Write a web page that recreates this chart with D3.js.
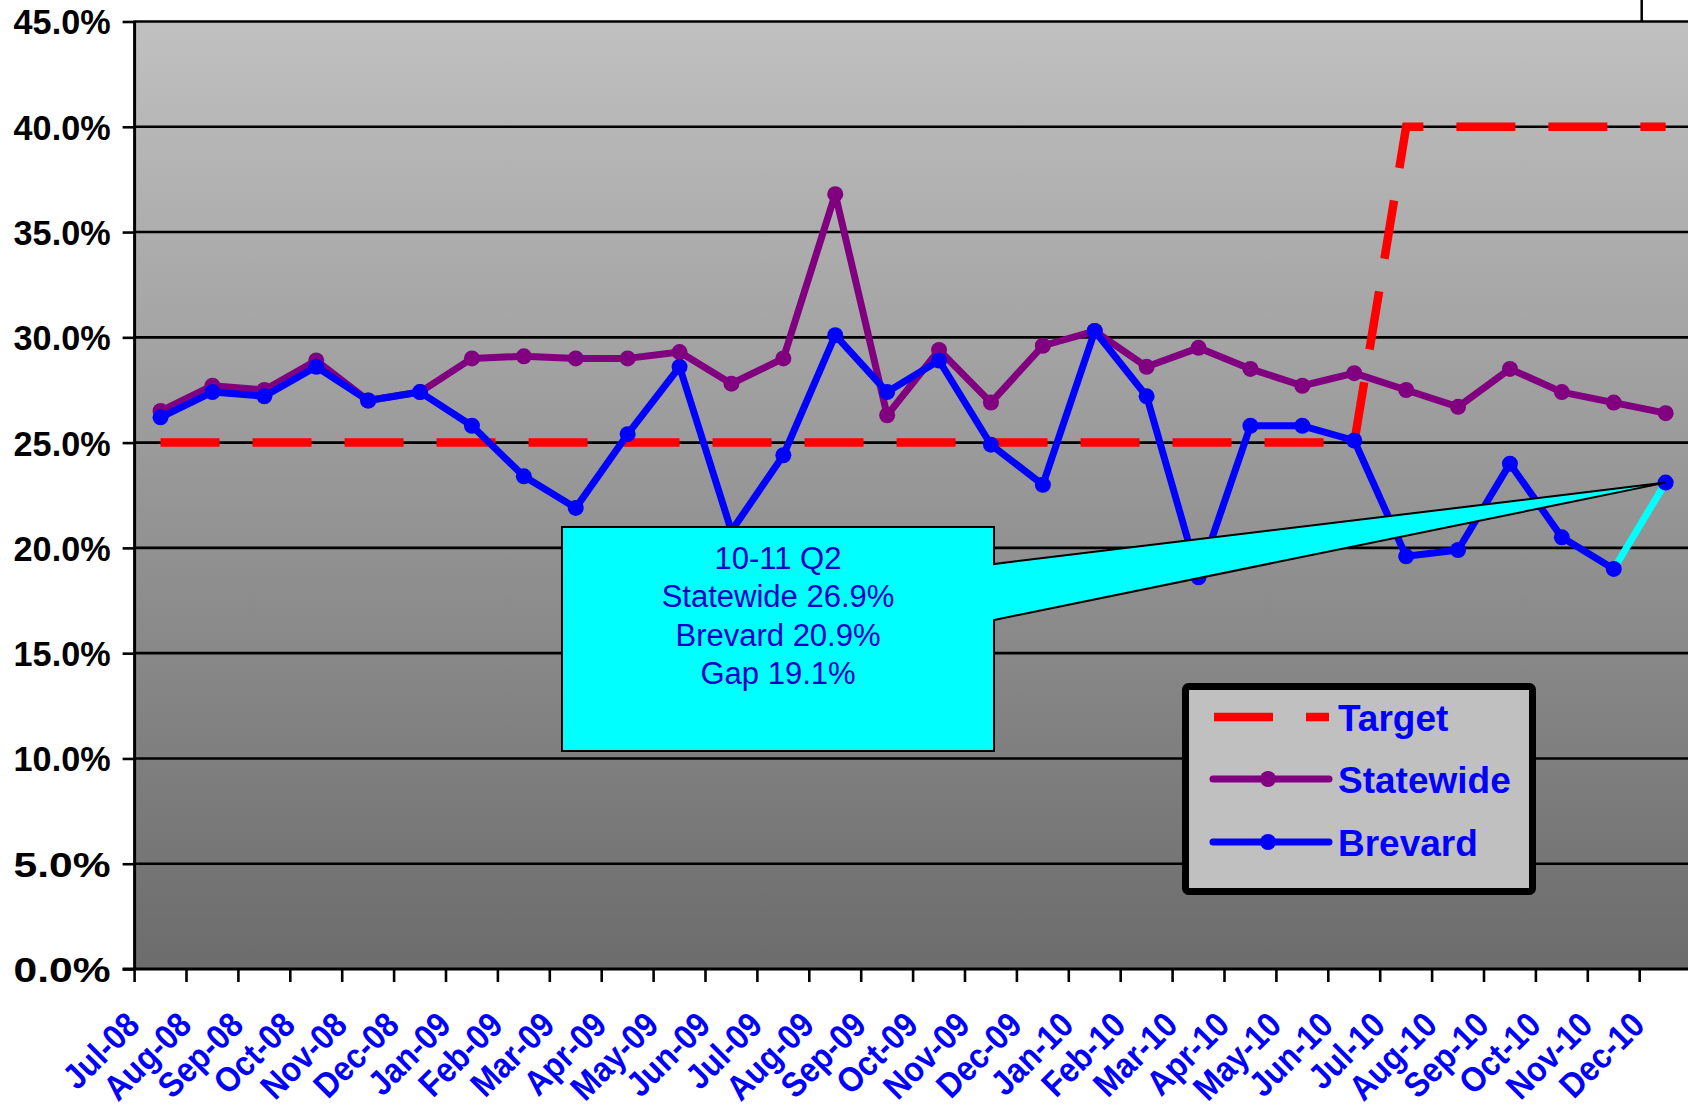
<!DOCTYPE html>
<html>
<head>
<meta charset="utf-8">
<script src="https://cdn.jsdelivr.net/npm/d3@7"></script>
<style>
  html, body { margin: 0; padding: 0; background: #ffffff; }
  svg { display: block; font-family: "Liberation Sans", Arial, sans-serif; }
</style>
</head>
<body>
<svg id="chart" width="1688" height="1107"></svg>
<script>
// ---------- data ----------
const categories = ["Jul-08","Aug-08","Sep-08","Oct-08","Nov-08","Dec-08","Jan-09","Feb-09","Mar-09","Apr-09","May-09","Jun-09","Jul-09","Aug-09","Sep-09","Oct-09","Nov-09","Dec-09","Jan-10","Feb-10","Mar-10","Apr-10","May-10","Jun-10","Jul-10","Aug-10","Sep-10","Oct-10","Nov-10","Dec-10"];
const target    = [25,25,25,25,25,25,25,25,25,25,25,25,25,25,25,25,25,25,25,25,25,25,25,25,40,40,40,40,40,40];
const statewide = [26.5,27.7,27.5,28.9,27.0,27.4,29.0,29.1,29.0,29.0,29.3,27.8,29.0,36.8,26.3,29.4,26.9,29.6,30.3,28.6,29.5,28.5,27.7,28.3,27.5,26.7,28.5,27.4,26.9,26.4];
const brevard   = [26.2,27.4,27.2,28.6,27.0,27.4,25.8,23.4,21.9,25.4,28.6,20.8,24.4,30.1,27.4,28.9,24.9,23.0,30.3,27.2,18.6,25.8,25.8,25.1,19.6,19.9,24.0,20.5,19.0,23.1];
const yTicks    = [0,5,10,15,20,25,30,35,40,45];
const legendItems = ["Target","Statewide","Brevard"];
const calloutLines = ["10-11 Q2","Statewide 26.9%","Brevard 20.9%","Gap 19.1%"];

// ---------- layout ----------
const svg = d3.select("#chart");
const pLeft = 134.6, pRight = 1691.6, pTop = 21.5, pBottom = 969;

const x = d3.scaleBand().domain(categories).range([pLeft, pRight]).padding(0);
const y = d3.scaleLinear().domain([0, 45]).range([pBottom, pTop]);
const cx = c => x(c) + x.bandwidth() / 2;

// background gradient
const defs = svg.append("defs");
const grad = defs.append("linearGradient").attr("id", "bg").attr("x1", 0).attr("y1", 0).attr("x2", 0).attr("y2", 1);
grad.append("stop").attr("offset", "0%").attr("stop-color", "#c0c0c0");
grad.append("stop").attr("offset", "100%").attr("stop-color", "#6c6c6c");

svg.append("rect").attr("x", pLeft).attr("y", pTop).attr("width", pRight - pLeft).attr("height", pBottom - pTop).attr("fill", "url(#bg)");

// gridlines
svg.append("g").selectAll("line").data(yTicks.filter(d => d > 0)).join("line")
  .attr("x1", pLeft).attr("x2", 1688)
  .attr("y1", d => y(d)).attr("y2", d => y(d))
  .attr("stroke", "#000").attr("stroke-width", 2.6);

// small stray line at top right
svg.append("line").attr("x1", x("Dec-10") + 2).attr("x2", x("Dec-10") + 2)
  .attr("y1", 0).attr("y2", pTop).attr("stroke", "#000").attr("stroke-width", 2.5);

// y axis
const yAxis = svg.append("g").attr("transform", `translate(${pLeft},0)`)
  .call(d3.axisLeft(y).tickValues(yTicks).tickSize(12).tickPadding(12).tickFormat(d => d.toFixed(1) + "%"));
yAxis.select(".domain").remove();
yAxis.selectAll(".tick line").attr("stroke", "#000").attr("stroke-width", 2.6);
yAxis.selectAll(".tick text")
  .attr("fill", "#000").attr("font-size", 34.5).attr("font-weight", "bold")
  .attr("font-family", "'Liberation Sans', Arial, sans-serif")
  .attr("dy", "0.36em")
  .attr("textLength", 97).attr("lengthAdjust", "spacingAndGlyphs");
svg.append("line").attr("x1", pLeft).attr("x2", pLeft).attr("y1", pTop - 1).attr("y2", pBottom + 1)
  .attr("stroke", "#000").attr("stroke-width", 3);

// x axis
svg.append("line").attr("x1", pLeft - 12).attr("x2", 1688).attr("y1", pBottom).attr("y2", pBottom)
  .attr("stroke", "#000").attr("stroke-width", 3);
svg.append("g").selectAll("line").data(categories).join("line")
  .attr("x1", d => x(d)).attr("x2", d => x(d))
  .attr("y1", pBottom).attr("y2", pBottom + 13)
  .attr("stroke", "#000").attr("stroke-width", 2.6);
svg.append("g").selectAll("text").data(categories).join("text")
  .attr("transform", d => `translate(${cx(d) - 19},${pBottom + 58}) rotate(-45) scale(0.9,1)`)
  .attr("text-anchor", "end")
  .attr("fill", "#0000ff").attr("font-size", 35).attr("font-weight", "bold")
  .text(d => d);

// series lines
const line = d3.line().x((d, i) => cx(categories[i])).y(d => y(d));

svg.append("path").datum(target).attr("d", line)
  .attr("fill", "none").attr("stroke", "#ff0000").attr("stroke-width", 8.5)
  .attr("stroke-dasharray", "59,33").attr("stroke-linejoin", "miter");

svg.append("path").datum(statewide).attr("d", line)
  .attr("fill", "none").attr("stroke", "#800080").attr("stroke-width", 7).attr("stroke-linejoin", "round");
svg.append("g").selectAll("circle").data(statewide).join("circle")
  .attr("cx", (d, i) => cx(categories[i])).attr("cy", d => y(d)).attr("r", 8).attr("fill", "#800080");

// brevard: all but the last segment blue, last segment cyan
const nB = brevard.length;
svg.append("path").datum(brevard.slice(0, nB - 1)).attr("d", line)
  .attr("fill", "none").attr("stroke", "#0000ff").attr("stroke-width", 7).attr("stroke-linejoin", "round");
svg.append("line")
  .attr("x1", cx(categories[nB - 2])).attr("y1", y(brevard[nB - 2]))
  .attr("x2", cx(categories[nB - 1])).attr("y2", y(brevard[nB - 1]))
  .attr("stroke", "#00ffff").attr("stroke-width", 7);
svg.append("g").selectAll("circle").data(brevard).join("circle")
  .attr("cx", (d, i) => cx(categories[i])).attr("cy", d => y(d)).attr("r", 8).attr("fill", "#0000ff");

// legend
const lg = svg.append("g");
lg.append("rect").attr("x", 1185.5).attr("y", 686.5).attr("width", 347).attr("height", 205).attr("rx", 3)
  .attr("fill", "#c0c0c0").attr("stroke", "#000").attr("stroke-width", 7);
const legendY = [717, 779, 842];
const legendColors = ["#ff0000", "#800080", "#0000ff"];
legendItems.forEach((name, i) => {
  if (i === 0) {
    lg.append("line").attr("x1", 1214).attr("x2", 1329).attr("y1", legendY[i]).attr("y2", legendY[i])
      .attr("stroke", legendColors[i]).attr("stroke-width", 8.5).attr("stroke-dasharray", "59,33");
  } else {
    lg.append("line").attr("x1", 1213).attr("x2", 1329).attr("y1", legendY[i]).attr("y2", legendY[i])
      .attr("stroke", legendColors[i]).attr("stroke-width", 7).attr("stroke-linecap", "round");
    lg.append("circle").attr("cx", 1268).attr("cy", legendY[i]).attr("r", 8).attr("fill", legendColors[i]);
  }
  lg.append("text").attr("x", 1338).attr("y", legendY[i] + 14)
    .attr("fill", "#0000ff").attr("font-size", 37).attr("font-weight", "bold").text(name);
});

// callout
const tipX = cx(categories[nB - 1]), tipY = y(brevard[nB - 1]);
const bx0 = 562, bx1 = 994, by0 = 527, by1 = 751;
svg.append("path")
  .attr("d", `M${bx0},${by0}H${bx1}V564L${tipX},${tipY}L${bx1},620V${by1}H${bx0}Z`)
  .attr("fill", "#00ffff").attr("stroke", "#000").attr("stroke-width", 2).attr("stroke-linejoin", "miter");
svg.append("g").selectAll("text").data(calloutLines).join("text")
  .attr("x", (bx0 + bx1) / 2).attr("y", (d, i) => 569 + i * 38.3)
  .attr("text-anchor", "middle").attr("fill", "#0000c8").attr("font-size", 31)
  .text(d => d);
</script>
</body>
</html>
